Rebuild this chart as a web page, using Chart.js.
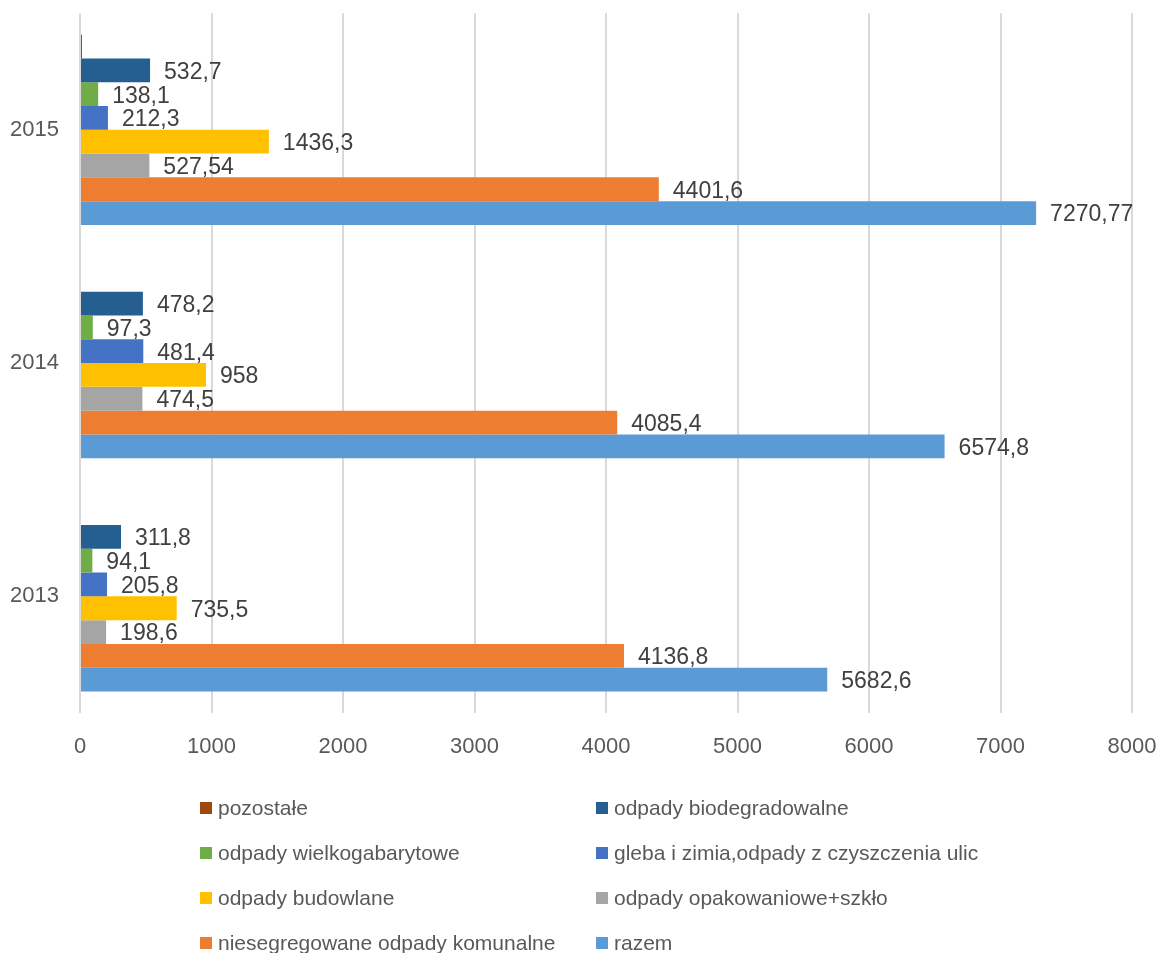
<!DOCTYPE html>
<html>
<head>
<meta charset="utf-8">
<script src="https://cdn.jsdelivr.net/npm/chart.js@4/dist/chart.umd.min.js"></script>
<style>
  body { margin: 0; background: #fff; font-family: "Liberation Sans", Arial, sans-serif; }
  #wrap { position: absolute; left: 0; top: 0; width: 1162px; height: 780px; }
  #legend { position: absolute; left: 0; top: 0; width: 1162px; height: 953px; pointer-events: none; }
  .item { position: absolute; font-size: 21px; color: #595959; white-space: nowrap; line-height: 24px; }
  .box { position: absolute; width: 12px; height: 12px; left: 0; top: 6px; }
  .item span.txt { position: absolute; left: 18px; top: 0; }
</style>
</head>
<body>
<div id="wrap"><canvas id="chart"></canvas></div>
<div id="legend"></div>
<script>
const years = ["2015", "2014", "2013"];

const pozostale = [15, null, null];
const biodegradowalne = [532.7, 478.2, 311.8];
const wielkogabarytowe = [138.1, 97.3, 94.1];
const gleba = [212.3, 481.4, 205.8];
const budowlane = [1436.3, 958, 735.5];
const opakowaniowe = [527.54, 474.5, 198.6];
const niesegregowane = [4401.6, 4085.4, 4136.8];
const razem = [7270.77, 6574.8, 5682.6];

const xTicks = [0, 1000, 2000, 3000, 4000, 5000, 6000, 7000, 8000];

const series = [
    { label: "pozostałe", data: pozostale, color: "#9E480E", showLabels: false },
    { label: "odpady biodegradowalne", data: biodegradowalne, color: "#255E91", showLabels: true },
    { label: "odpady wielkogabarytowe", data: wielkogabarytowe, color: "#70AD47", showLabels: true },
    { label: "gleba i zimia,odpady z czyszczenia ulic", data: gleba, color: "#4472C4", showLabels: true },
    { label: "odpady budowlane", data: budowlane, color: "#FFC000", showLabels: true },
    { label: "odpady opakowaniowe+szkło", data: opakowaniowe, color: "#A5A5A5", showLabels: true },
    { label: "niesegregowane odpady komunalne", data: niesegregowane, color: "#ED7D31", showLabels: true },
    { label: "razem", data: razem, color: "#5B9BD5", showLabels: true }
];

const FONT = "'Liberation Sans', Arial, sans-serif";

// value labels to the right of each bar, polish decimal comma
const valueLabels = {
    id: "valueLabels",
    afterDatasetsDraw(chart) {
        const ctx = chart.ctx;
        ctx.save();
        ctx.font = "23px " + FONT;
        ctx.fillStyle = "#404040";
        ctx.textAlign = "left";
        ctx.textBaseline = "middle";
        chart.data.datasets.forEach(function (ds, i) {
            if (!series[i].showLabels) return;
            chart.getDatasetMeta(i).data.forEach(function (bar, j) {
                const v = ds.data[j];
                if (v === null || v === undefined) return;
                ctx.fillText(String(v).replace(".", ","), bar.x + 14, bar.y + 2);
            });
        });
        ctx.restore();
    }
};

Chart.defaults.font.family = FONT;

let barChart = new Chart(document.getElementById("chart").getContext("2d"), {
    type: "bar",
    data: {
        labels: years,
        datasets: series.map(function (s) {
            return {
                label: s.label,
                data: s.data,
                backgroundColor: s.color,
                borderWidth: 0,
                categoryPercentage: 0.815,
                barPercentage: 1
            };
        })
    },
    options: {
        indexAxis: "y",
        responsive: true,
        maintainAspectRatio: false,
        animation: false,
        layout: { padding: { top: 0, right: 30, left: 10, bottom: 0 } },
        plugins: {
            legend: { display: false },
            tooltip: { enabled: false }
        },
        scales: {
            x: {
                min: 0,
                max: 8000,
                afterBuildTicks(scale) {
                    scale.ticks = xTicks.map(function (v) { return { value: v }; });
                },
                afterFit(scale) { scale.height = 67; },
                grid: {
                    color: "#d9d9d9", lineWidth: 2,
                    drawTicks: true, tickLength: 21, tickColor: "rgba(0,0,0,0)"
                },
                border: { display: false },
                ticks: {
                    color: "#595959", font: { size: 22 }, padding: 0,
                    callback: function (v) { return String(v); }
                }
            },
            y: {
                afterFit(scale) { scale.width = 70; },
                grid: { display: false, drawTicks: false },
                border: { display: false },
                ticks: { color: "#595959", font: { size: 22 }, padding: 0, crossAlign: "far" }
            }
        }
    },
    plugins: [valueLabels]
});

// legend in two columns, like the original
const legend = document.getElementById("legend");
const colX = [200, 596];
const rowY = [796, 841, 886, 931];
series.forEach(function (s, i) {
    const item = document.createElement("div");
    item.className = "item";
    item.style.left = colX[i % 2] + "px";
    item.style.top = rowY[Math.floor(i / 2)] + "px";
    const box = document.createElement("div");
    box.className = "box";
    box.style.background = s.color;
    const txt = document.createElement("span");
    txt.className = "txt";
    txt.textContent = s.label;
    item.appendChild(box);
    item.appendChild(txt);
    legend.appendChild(item);
});
</script>
</body>
</html>
